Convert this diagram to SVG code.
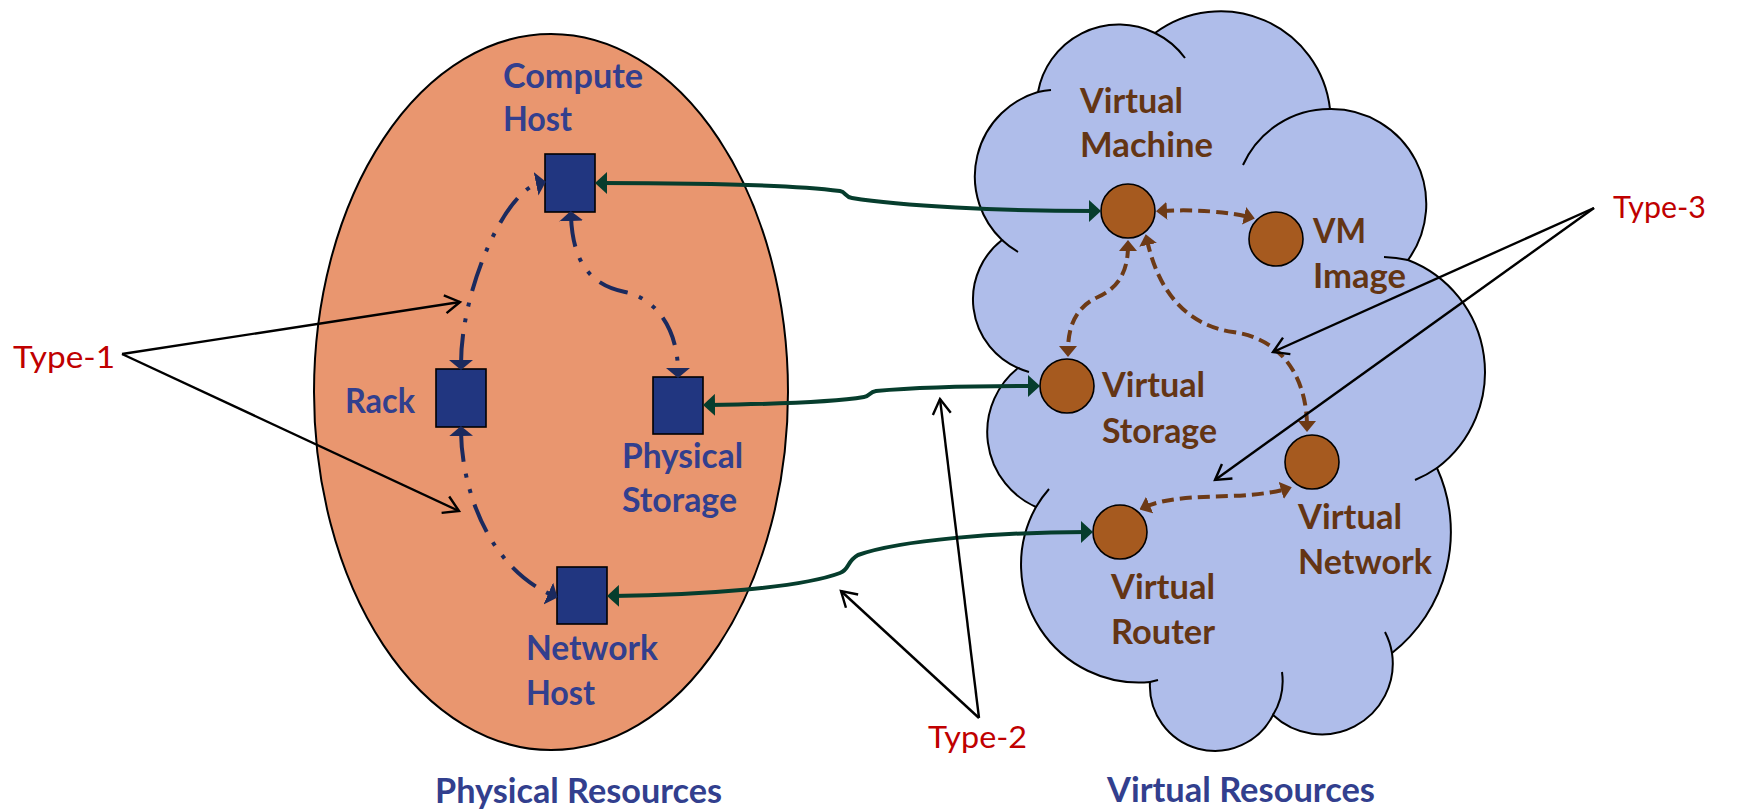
<svg xmlns="http://www.w3.org/2000/svg" width="1761" height="812" viewBox="0 0 1761 812">
<style>
.nv{font-family:Lato,"Liberation Sans",sans-serif;font-weight:bold;font-size:33.5px;fill:#323F8E}
.br{font-family:Lato,"Liberation Sans",sans-serif;font-weight:bold;font-size:33.5px;fill:#643514}
.rd{font-family:Lato,"Liberation Sans",sans-serif;font-size:31.5px;fill:#C00000}
.sq{fill:#213680;stroke:#000;stroke-width:1.6}
.ci{fill:#A65A1F;stroke:#000;stroke-width:1.6}
.g{fill:none;stroke:#063D2D;stroke-width:4;marker-start:url(#ag);marker-end:url(#ag)}
.b{fill:none;stroke:#6D3A16;stroke-width:4;stroke-dasharray:12 6;marker-start:url(#ab);marker-end:url(#ab)}
.n{fill:none;stroke:#1B2A5E;stroke-width:4;stroke-dasharray:30 12 4 12 4 12;marker-start:url(#an);marker-end:url(#an)}
.t{fill:none;stroke:#000;stroke-width:2.4;marker-end:url(#at)}
</style>
<defs>
<marker id="ag" viewBox="0 0 12 22" refX="6" refY="11" markerWidth="12" markerHeight="22" markerUnits="userSpaceOnUse" orient="auto-start-reverse"><path d="M0,0 L12,11 L0,22 Z" fill="#063D2D"/></marker>
<marker id="ab" viewBox="0 0 11 18" refX="5" refY="9" markerWidth="11" markerHeight="18" markerUnits="userSpaceOnUse" orient="auto-start-reverse"><path d="M0,0 L11,9 L0,18 Z" fill="#6D3A16"/></marker>
<marker id="an" viewBox="0 0 10 24" refX="4" refY="12" markerWidth="10" markerHeight="24" markerUnits="userSpaceOnUse" orient="auto-start-reverse"><path d="M0,0 L10,12 L0,24 Z" fill="#1B2A5E"/></marker>
<marker id="at" viewBox="0 0 16 18" refX="15" refY="9" markerWidth="16" markerHeight="18" markerUnits="userSpaceOnUse" orient="auto" overflow="visible"><path d="M0,0 L15,9 L0,18" fill="none" stroke="#000" stroke-width="2.4"/></marker>
</defs>
<rect width="1761" height="812" fill="#fff"/>

<g id="physical-resources">
<ellipse cx="551" cy="392" rx="237" ry="358" fill="#E9966F" stroke="#000" stroke-width="2"/>
<text class="nv" x="435" y="803" textLength="287" lengthAdjust="spacingAndGlyphs">Physical Resources</text>
</g>

<g id="virtual-resources">
<path d="M1038,92 A82,82 0 0 1 1155,33 A110,110 0 0 1 1330,109 A95,95 0 0 1 1408,260 A120,120 0 0 1 1437,468 A154,154 0 0 1 1392,653 A71,71 0 0 1 1273,715 A65,65 0 0 1 1150,682 A118,118 0 0 1 1036,507 A82,82 0 0 1 1018,368 A75,75 0 0 1 1002,240 A88,88 0 0 1 1038,92 Z" fill="#AFBDEA" stroke="#000" stroke-width="2"/>
<path d="M1038,92 A88,88 0 0 1 1051,90 M1002,240 A88,88 0 0 0 1018,252 M1018,368 A75,75 0 0 0 1029,372 M1036,507 A118,118 0 0 1 1049,489 M1150,682 A118,118 0 0 0 1158,680 M1273,715 A65,65 0 0 0 1282,672 M1392,653 A71,71 0 0 0 1385,632 M1437,468 A120,120 0 0 1 1415,480 M1408,260 A120,120 0 0 0 1384,257 M1330,109 A95,95 0 0 0 1243,165 M1155,33 A82,82 0 0 1 1185,58" fill="none" stroke="#000" stroke-width="2"/>
<text class="nv" x="1107" y="802" textLength="268" lengthAdjust="spacingAndGlyphs">Virtual Resources</text>
</g>

<g id="compute-host">
<rect class="sq" x="545" y="154" width="50" height="58"/>
<text class="nv" x="503" y="88" textLength="140" lengthAdjust="spacingAndGlyphs">Compute</text>
<text class="nv" x="503" y="131" textLength="69" lengthAdjust="spacingAndGlyphs">Host</text>
</g>
<g id="rack">
<rect class="sq" x="436" y="369" width="50" height="58"/>
<text class="nv" x="345" y="413" textLength="70" lengthAdjust="spacingAndGlyphs">Rack</text>
</g>
<g id="physical-storage">
<rect class="sq" x="653" y="377" width="50" height="57"/>
<text class="nv" x="622" y="468" textLength="121" lengthAdjust="spacingAndGlyphs">Physical</text>
<text class="nv" x="622" y="512" textLength="115" lengthAdjust="spacingAndGlyphs">Storage</text>
</g>
<g id="network-host">
<rect class="sq" x="557" y="567" width="50" height="57"/>
<text class="nv" x="526" y="660" textLength="132" lengthAdjust="spacingAndGlyphs">Network</text>
<text class="nv" x="526" y="705" textLength="69" lengthAdjust="spacingAndGlyphs">Host</text>
</g>

<g id="virtual-machine">
<circle class="ci" cx="1128" cy="211" r="27"/>
<text class="br" x="1080" y="113" textLength="103" lengthAdjust="spacingAndGlyphs">Virtual</text>
<text class="br" x="1080" y="157" textLength="133" lengthAdjust="spacingAndGlyphs">Machine</text>
</g>
<g id="vm-image">
<circle class="ci" cx="1276" cy="239" r="27"/>
<text class="br" x="1313" y="243" textLength="53" lengthAdjust="spacingAndGlyphs">VM</text>
<text class="br" x="1313" y="288" textLength="93" lengthAdjust="spacingAndGlyphs">Image</text>
</g>
<g id="virtual-storage">
<circle class="ci" cx="1067" cy="386" r="27"/>
<text class="br" x="1102" y="397" textLength="103" lengthAdjust="spacingAndGlyphs">Virtual</text>
<text class="br" x="1102" y="443" textLength="115" lengthAdjust="spacingAndGlyphs">Storage</text>
</g>
<g id="virtual-network">
<circle class="ci" cx="1312" cy="462" r="27"/>
<text class="br" x="1298" y="529" textLength="104" lengthAdjust="spacingAndGlyphs">Virtual</text>
<text class="br" x="1298" y="574" textLength="134" lengthAdjust="spacingAndGlyphs">Network</text>
</g>
<g id="virtual-router">
<circle class="ci" cx="1120" cy="532" r="27"/>
<text class="br" x="1111" y="599" textLength="104" lengthAdjust="spacingAndGlyphs">Virtual</text>
<text class="br" x="1111" y="644" textLength="104" lengthAdjust="spacingAndGlyphs">Router</text>
</g>

<g id="connectors">
<path class="g" d="M601,183 C720,183 800,186 840,191 C846,192 845,197 852,198 C900,206 1000,211 1095,211"/>
<path class="g" d="M709,405 C780,404 840,401 864,397 C870,396 869,392 876,391 C920,387 990,386 1034,386"/>
<path class="g" d="M613,596 C700,595 800,588 840,573 C850,569 846,562 858,555 C900,540 1000,532 1087,532"/>
<path class="n" d="M461,364 C461,290 505,190 540,183"/>
<path class="n" d="M571,217 C573,262 590,285 625,292 C655,298 678,328 678,372"/>
<path class="n" d="M461,432 C462,492 490,568 552,595"/>
<path class="b" d="M1162,211 C1195,209 1228,212 1249,217"/>
<path class="b" d="M1128,246 C1128,272 1118,288 1098,297 C1078,306 1068,323 1068,351"/>
<path class="b" d="M1147,240 C1158,290 1185,325 1233,332 C1290,340 1307,388 1307,426"/>
<path class="b" d="M1145,507 C1168,497 1200,497 1230,496 C1258,495 1276,492 1286,489"/>
<path class="t" d="M122,354 L460,302"/>
<path class="t" d="M122,354 L459,511"/>
<path class="t" d="M979,718 L940,399"/>
<path class="t" d="M979,718 L841,591"/>
<path class="t" d="M1594,208 L1273,352"/>
<path class="t" d="M1594,208 L1215,480"/>
</g>

<g id="type-labels">
<text class="rd" x="13" y="368" textLength="102" lengthAdjust="spacingAndGlyphs">Type-1</text>
<text class="rd" x="928" y="748" textLength="99" lengthAdjust="spacingAndGlyphs">Type-2</text>
<text class="rd" x="1613" y="218" textLength="93" lengthAdjust="spacingAndGlyphs">Type-3</text>
</g>
</svg>
